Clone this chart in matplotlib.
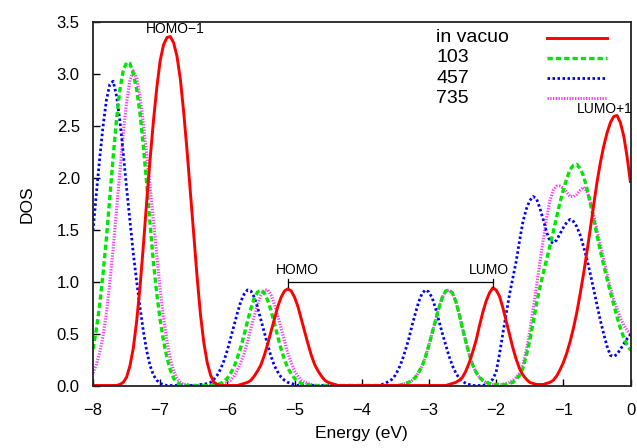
import numpy as np
import matplotlib
matplotlib.use("Agg")
import matplotlib.pyplot as plt

plt.rcParams['font.family'] = ['Liberation Sans', 'DejaVu Sans']

# energy grid (eV), 0.05 eV steps from -8 to 0
energy = np.round(np.linspace(-8.0, 0.0, 161), 2)

# DOS values, ten per row (each row spans 0.5 eV)
dos_vacuo = [
    0.00, 0.00, 0.00, 0.00, 0.00, 0.00, 0.00, 0.00, 0.01, 0.03,
    0.08, 0.19, 0.36, 0.62, 0.95, 1.35, 1.78, 2.18, 2.55, 2.87,
    3.13, 3.28, 3.35, 3.36, 3.30, 3.17, 2.95, 2.63, 2.26, 1.86,
    1.45, 1.04, 0.68, 0.41, 0.22, 0.10, 0.03, 0.01, 0.00, 0.00,
    0.00, 0.00, 0.00, 0.00, 0.01, 0.02, 0.03, 0.05, 0.09, 0.14,
    0.20, 0.29, 0.40, 0.52, 0.64, 0.76, 0.85, 0.91, 0.93, 0.91,
    0.85, 0.76, 0.64, 0.52, 0.40, 0.29, 0.20, 0.14, 0.09, 0.05,
    0.03, 0.02, 0.01, 0.00, 0.00, 0.00, 0.00, 0.00, 0.00, 0.00,
    0.00, 0.00, 0.00, 0.00, 0.00, 0.00, 0.00, 0.00, 0.00, 0.00,
    0.00, 0.00, 0.00, 0.00, 0.00, 0.00, 0.00, 0.00, 0.00, 0.00,
    0.00, 0.00, 0.00, 0.00, 0.00, 0.00, 0.01, 0.02, 0.03, 0.05,
    0.08, 0.14, 0.22, 0.32, 0.43, 0.57, 0.70, 0.81, 0.89, 0.94,
    0.92, 0.86, 0.75, 0.62, 0.49, 0.36, 0.25, 0.16, 0.10, 0.06,
    0.03, 0.02, 0.01, 0.01, 0.01, 0.02, 0.03, 0.05, 0.09, 0.15,
    0.22, 0.31, 0.42, 0.55, 0.70, 0.88, 1.07, 1.28, 1.50, 1.73,
    1.95, 2.14, 2.30, 2.43, 2.53, 2.59, 2.60, 2.53, 2.40, 2.20,
    1.95]

dos_103 = [
    0.35, 0.54, 0.78, 1.08, 1.42, 1.81, 2.20, 2.56, 2.85, 3.03,
    3.11, 3.10, 3.00, 2.85, 2.62, 2.30, 1.94, 1.55, 1.18, 0.88,
    0.63, 0.43, 0.27, 0.15, 0.07, 0.03, 0.01, 0.00, 0.00, 0.00,
    0.00, 0.00, 0.00, 0.00, 0.00, 0.00, 0.01, 0.01, 0.02, 0.04,
    0.07, 0.12, 0.18, 0.27, 0.37, 0.49, 0.62, 0.74, 0.84, 0.90,
    0.92, 0.89, 0.82, 0.72, 0.60, 0.47, 0.35, 0.25, 0.17, 0.11,
    0.07, 0.04, 0.02, 0.01, 0.01, 0.00, 0.00, 0.00, 0.00, 0.00,
    0.00, 0.00, 0.00, 0.00, 0.00, 0.00, 0.00, 0.00, 0.00, 0.00,
    0.00, 0.00, 0.00, 0.00, 0.00, 0.00, 0.00, 0.00, 0.00, 0.00,
    0.00, 0.00, 0.01, 0.02, 0.03, 0.05, 0.08, 0.13, 0.19, 0.28,
    0.39, 0.51, 0.63, 0.75, 0.85, 0.91, 0.92, 0.89, 0.81, 0.69,
    0.55, 0.42, 0.30, 0.20, 0.13, 0.08, 0.05, 0.03, 0.02, 0.01,
    0.01, 0.01, 0.01, 0.01, 0.02, 0.03, 0.06, 0.10, 0.17, 0.29,
    0.43, 0.60, 0.78, 0.94, 1.08, 1.21, 1.34, 1.48, 1.62, 1.76,
    1.88, 1.99, 2.08, 2.12, 2.13, 2.09, 2.02, 1.90, 1.76, 1.61,
    1.45, 1.30, 1.16, 1.03, 0.90, 0.78, 0.66, 0.55, 0.46, 0.39,
    0.34]

dos_457 = [
    1.49, 1.85, 2.19, 2.50, 2.75, 2.90, 2.93, 2.79, 2.55, 2.24,
    1.90, 1.58, 1.27, 1.00, 0.75, 0.52, 0.33, 0.19, 0.10, 0.05,
    0.02, 0.01, 0.00, 0.00, 0.00, 0.00, 0.00, 0.00, 0.00, 0.00,
    0.00, 0.00, 0.01, 0.01, 0.02, 0.03, 0.06, 0.10, 0.16, 0.24,
    0.34, 0.46, 0.58, 0.70, 0.81, 0.88, 0.92, 0.91, 0.85, 0.75,
    0.63, 0.51, 0.39, 0.28, 0.19, 0.13, 0.08, 0.05, 0.03, 0.02,
    0.01, 0.00, 0.00, 0.00, 0.00, 0.00, 0.00, 0.00, 0.00, 0.00,
    0.00, 0.00, 0.00, 0.00, 0.00, 0.00, 0.00, 0.00, 0.00, 0.00,
    0.00, 0.00, 0.00, 0.00, 0.00, 0.00, 0.01, 0.02, 0.04, 0.06,
    0.10, 0.16, 0.24, 0.34, 0.45, 0.58, 0.70, 0.81, 0.89, 0.92,
    0.90, 0.84, 0.74, 0.62, 0.50, 0.39, 0.28, 0.19, 0.12, 0.07,
    0.04, 0.02, 0.01, 0.00, 0.00, 0.00, 0.00, 0.01, 0.03, 0.06,
    0.13, 0.30, 0.50, 0.69, 0.88, 1.04, 1.20, 1.40, 1.58, 1.70,
    1.78, 1.82, 1.80, 1.71, 1.60, 1.48, 1.39, 1.37, 1.40, 1.46,
    1.52, 1.57, 1.60, 1.58, 1.53, 1.45, 1.34, 1.22, 1.08, 0.93,
    0.78, 0.63, 0.50, 0.38, 0.29, 0.28, 0.30, 0.35, 0.40, 0.45,
    0.49]

dos_735 = [
    0.12, 0.20, 0.32, 0.48, 0.70, 0.99, 1.32, 1.69, 2.07, 2.43,
    2.73, 2.94, 3.03, 2.96, 2.78, 2.52, 2.22, 1.91, 1.58, 1.24,
    0.92, 0.65, 0.43, 0.26, 0.14, 0.07, 0.03, 0.01, 0.01, 0.00,
    0.00, 0.00, 0.00, 0.00, 0.00, 0.00, 0.00, 0.00, 0.01, 0.02,
    0.03, 0.05, 0.09, 0.15, 0.22, 0.31, 0.42, 0.55, 0.67, 0.78,
    0.87, 0.92, 0.92, 0.87, 0.78, 0.67, 0.55, 0.43, 0.31, 0.22,
    0.14, 0.09, 0.05, 0.03, 0.02, 0.01, 0.00, 0.00, 0.00, 0.00,
    0.00, 0.00, 0.00, 0.00, 0.00, 0.00, 0.00, 0.00, 0.00, 0.00,
    0.00, 0.00, 0.00, 0.00, 0.00, 0.00, 0.00, 0.00, 0.00, 0.00,
    0.00, 0.00, 0.01, 0.02, 0.03, 0.05, 0.08, 0.13, 0.19, 0.28,
    0.39, 0.51, 0.63, 0.75, 0.85, 0.91, 0.92, 0.89, 0.81, 0.69,
    0.55, 0.42, 0.30, 0.20, 0.13, 0.08, 0.05, 0.03, 0.02, 0.01,
    0.01, 0.01, 0.01, 0.02, 0.03, 0.05, 0.08, 0.12, 0.20, 0.34,
    0.52, 0.73, 0.95, 1.18, 1.40, 1.61, 1.78, 1.88, 1.92, 1.92,
    1.90, 1.86, 1.82, 1.82, 1.84, 1.88, 1.91, 1.87, 1.78, 1.65,
    1.50, 1.36, 1.22, 1.08, 0.94, 0.83, 0.74, 0.65, 0.58, 0.53,
    0.49]

labels = ["in vacuo", "103", "457", "735"]
series = [dos_vacuo, dos_103, dos_457, dos_735]
for s in series:
    assert len(s) == len(energy)

# orbital energies of the in vacuo curve used for the labels
homo_m1 = -6.88
homo = -5.10
lumo = -2.05
lumo_p1 = -0.19

styles = [
    dict(color="#ff0000", lw=2.1, ls="-"),
    dict(color="#00e600", lw=2.4, ls=(0, (1.6, 0.9))),
    dict(color="#0000ff", lw=2.0, ls=(0, (0.9, 0.9))),
    dict(color="#ff40ff", lw=2.2, ls=(0, (0.45, 0.45))),
]

fig = plt.figure(figsize=(6.37, 4.48), dpi=100)
ax = fig.add_axes([93 / 637, 62.5 / 448, 537.5 / 637, 363.5 / 448])

# draw back to front like the original (red on top)
for ys, st in list(zip(series, styles))[::-1]:
    ax.plot(energy, ys, solid_capstyle="butt", dash_capstyle="butt",
            solid_joinstyle="round", **st)

ax.set_xlim(-8, 0)
ax.set_ylim(0, 3.5)
ax.set_xticks(np.arange(-8, 1, 1))
ax.set_yticks(np.arange(0, 3.51, 0.5))
ax.set_yticklabels(["%.1f" % v for v in np.arange(0, 3.51, 0.5)])
ax.tick_params(direction="in", length=5, width=1, labelsize=12,
               top=False, right=False)
ax.tick_params(axis="x", pad=12.5)
ax.tick_params(axis="y", pad=9.5)
for sp in ax.spines.values():
    sp.set_linewidth(1.3)
    sp.set_color("#222222")

ax.set_xlabel("Energy (eV)", fontsize=12.5, labelpad=6)
ax.set_ylabel("DOS", fontsize=12.5, labelpad=16)

# legend: text left-justified, line sample on the right
for i, (lab, st) in enumerate(zip(labels, styles)):
    yy = 0.957 - i * 0.0557
    ax.text(0.639, yy, lab, transform=ax.transAxes, fontsize=14,
            va="center", ha="left")
    ax.plot([0.844, 0.956], [yy, yy], transform=ax.transAxes,
            dash_capstyle="butt", **st)

# orbital labels
ax.text(homo_m1 + 0.1, 3.43, "HOMO\u22121", fontsize=10, ha="center", va="center")
ax.text(homo + 0.14, 1.11, "HOMO", fontsize=10, ha="center", va="center")
ax.text(lumo - 0.06, 1.11, "LUMO", fontsize=10, ha="center", va="center")
ax.text(lumo_p1 - 0.2, 2.66, "LUMO+1", fontsize=10, ha="center", va="center",
        clip_on=False)

# HOMO-LUMO gap bracket
ax.plot([homo, lumo], [1.0, 1.0], color="black", lw=0.9)
ax.plot([homo, homo], [0.95, 1.03], color="black", lw=0.9)
ax.plot([lumo, lumo], [0.95, 1.03], color="black", lw=0.9)

fig.savefig("out.png", dpi=100)
